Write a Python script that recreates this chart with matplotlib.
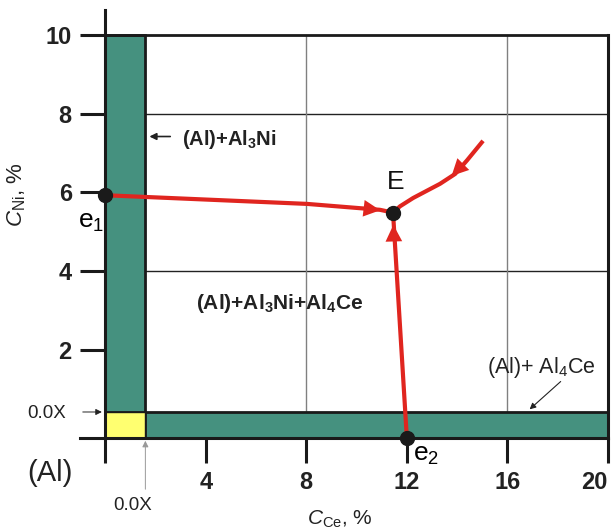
import matplotlib
matplotlib.use("Agg")
import matplotlib.pyplot as plt
from matplotlib.patches import Rectangle

plt.rcParams['font.family'] = ['Liberation Sans', 'DejaVu Sans']
plt.rcParams['mathtext.fontset'] = 'custom'
plt.rcParams['mathtext.rm'] = 'Liberation Sans'
plt.rcParams['mathtext.it'] = 'Liberation Sans:italic'
plt.rcParams['mathtext.bf'] = 'Liberation Sans:bold'

# axis ticks
x_ticks = [0, 4, 8, 12, 16, 20]
x_tick_labels = ['', '4', '8', '12', '16', '20']
y_ticks = [2, 4, 6, 8, 10]

# phase region boundaries (schematic, % Ce / % Ni)
band_x = 1.6        # width of (Al)+Al3Ni strip along the Ni axis
band_y = 0.43       # top of (Al)+Al4Ce strip along the Ce axis
y_bottom = -0.23

# eutectic valleys
e1_x = [0.0, 8.03, 10.93, 11.45]
e1_y = [5.93, 5.71, 5.56, 5.49]
e2_x = [12.0, 11.45]
e2_y = [-0.23, 5.49]
top_x = [15.03, 14.4, 13.92, 13.32, 12.25, 11.73, 11.45]
top_y = [7.31, 6.82, 6.47, 6.22, 5.86, 5.65, 5.49]

# invariant points
pts_x = [0.0, 11.45, 12.0]
pts_y = [5.93, 5.49, -0.23]

red = '#e0251f'
teal = '#45917f'
yellow = '#ffff70'

fig = plt.figure(figsize=(6.12, 5.30), dpi=100)
ax = fig.add_axes([80 / 612, 92 / 530, 528 / 612, 428 / 530])
ax.set_xlim(-1, 20)
ax.set_ylim(y_bottom, 10.63)

# regions
ax.add_patch(Rectangle((0, band_y), band_x, 10 - band_y, facecolor=teal,
                       edgecolor='#1a1a1a', lw=2, zorder=2))
ax.add_patch(Rectangle((band_x, y_bottom), 20 - band_x, band_y - y_bottom,
                       facecolor=teal, edgecolor='#1a1a1a', lw=2, zorder=2))
ax.add_patch(Rectangle((0, y_bottom), band_x, band_y - y_bottom,
                       facecolor=yellow, edgecolor='#1a1a1a', lw=1, zorder=2))

# grid inside the three-phase field
for gy in [4, 8]:
    ax.plot([band_x, 20], [gy, gy], color='#222222', lw=1, zorder=1)
for gx in [8, 16]:
    ax.plot([gx, gx], [band_y, 10], color='#808080', lw=1, zorder=1)
ax.plot([0, 20], [10, 10], color='#1a1a1a', lw=2, zorder=3)

# spines
ax.spines['top'].set_visible(False)
ax.spines['left'].set_position(('data', 0))
ax.spines['right'].set_bounds(y_bottom, 10)
for s in ['left', 'right', 'bottom']:
    ax.spines[s].set_linewidth(2.2)
    ax.spines[s].set_color('#1a1a1a')
    ax.spines[s].set_zorder(4)

ax.set_xticks(x_ticks)
ax.set_xticklabels(x_tick_labels)
ax.set_yticks(y_ticks)
ax.tick_params(axis='both', length=18, width=2.2, color='#1a1a1a',
               labelsize=17, pad=6, labelcolor='#222222')
for lab in ax.get_xticklabels() + ax.get_yticklabels():
    lab.set_fontweight('bold')
ax.get_xticklabels()[-1].set_horizontalalignment('right')
ax.get_xticklabels()[-1].set_x(20.1)

# valleys
for xs, ys in [(e1_x, e1_y), (e2_x, e2_y), (top_x, top_y)]:
    ax.plot(xs, ys, color=red, lw=3, solid_capstyle='butt', zorder=5)

arrow = dict(arrowstyle='-|>', color=red, lw=0, mutation_scale=30)
ax.annotate('', xy=(11.05, 5.54), xytext=(10.0, 5.62), arrowprops=arrow, zorder=6)
ax.annotate('', xy=(11.46, 5.25), xytext=(11.5, 4.4), arrowprops=arrow, zorder=6)
ax.annotate('', xy=(13.7, 6.37), xytext=(14.4, 6.82), arrowprops=arrow, zorder=6)

ax.plot(pts_x, pts_y, 'o', color='#1a1a1a', ms=10, zorder=7, clip_on=False)

# labels
ax.text(11.55, 6.1, 'E', fontsize=19, ha='center', va='baseline', color='#111111')
ax.text(-0.05, 5.1, r'e$\mathregular{_1}$', fontsize=19, ha='right', va='baseline')
ax.text(12.25, -0.82, r'e$\mathregular{_2}$', fontsize=19, ha='left', va='baseline')
ax.text(3.05, 7.2, r'(Al)+Al$\mathbf{_3}$Ni', fontsize=14.5, fontweight='bold',
        ha='left', va='baseline', color='#222222')
ax.annotate('', xy=(1.65, 7.42), xytext=(2.7, 7.42),
            arrowprops=dict(arrowstyle='-|>', color='#222222', lw=1.2, mutation_scale=10))
ax.text(3.6, 3.05, r'(Al)+Al$\mathbf{_3}$Ni+Al$\mathbf{_4}$Ce', fontsize=15,
        fontweight='bold', ha='left', va='baseline', color='#222222')
ax.text(15.2, 1.42, r'(Al)+ Al$_4$Ce', fontsize=15.5, ha='left', va='baseline',
        color='#222222')
ax.annotate('', xy=(16.8, 0.45), xytext=(18.2, 1.25),
            arrowprops=dict(arrowstyle='-|>', color='#222222', lw=0.8, mutation_scale=9))

fig.text(50 / 612, 1 - 481 / 530, '(Al)', fontsize=21, ha='center', va='baseline',
         color='#222222')
fig.text(47 / 612, 1 - 418 / 530, '0.0X', fontsize=13.5, ha='center', va='baseline',
         color='#222222')
ax.annotate('', xy=(-0.02, 0.43), xytext=(-1.0, 0.43), xycoords='data',
            arrowprops=dict(arrowstyle='-|>', color='#222222', lw=0.7, mutation_scale=9),
            annotation_clip=False)
fig.text(133 / 612, 1 - 510 / 530, '0.0X', fontsize=13.5, ha='center', va='baseline',
         color='#222222')
ax.annotate('', xy=(band_x, y_bottom), xytext=(band_x, -1.6),
            arrowprops=dict(arrowstyle='-|>', color='#999999', lw=0.7, mutation_scale=9),
            annotation_clip=False)

fig.text(340 / 612, 5 / 530, r'$C_{\mathrm{Ce}}$, %', fontsize=15, ha='center', va='baseline',
         color='#222222')
fig.text(17 / 612, 1 - 195 / 530, r'$C_{\mathrm{Ni}}$, %', fontsize=16,
         ha='center', va='center', rotation=90, color='#222222')

fig.savefig('out.png', dpi=100)
